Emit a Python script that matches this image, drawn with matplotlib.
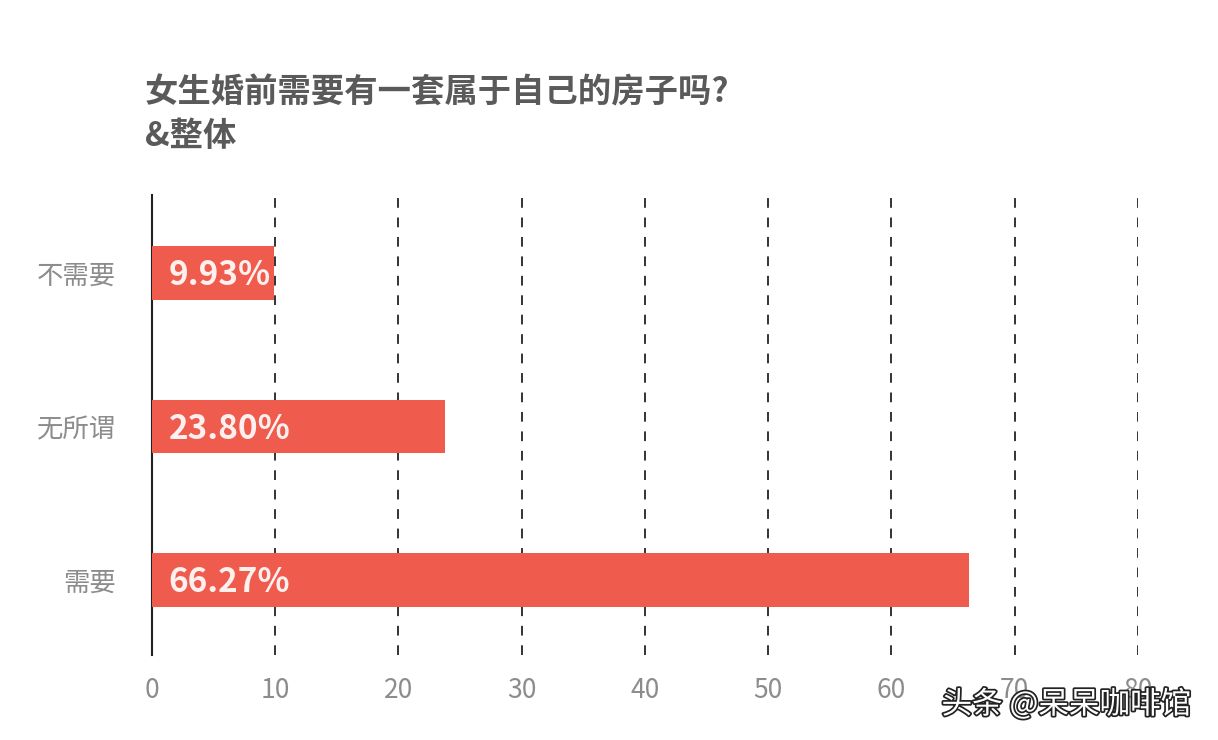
import matplotlib
matplotlib.use("Agg")
import matplotlib.pyplot as plt
from matplotlib import patheffects as pe

plt.rcParams['font.family'] = ['Noto Sans CJK SC', 'DejaVu Sans']

# data (bottom to top)
categories = ["需要", "无所谓", "不需要"]
values = [66.27, 23.80, 9.93]
labels = ["66.27%", "23.80%", "9.93%"]
xticks = [0, 10, 20, 30, 40, 50, 60, 70, 80]

BAR = "#ef5b4d"
GRAY = "#8c8c8c"

fig = plt.figure(figsize=(12.18, 7.40), dpi=100)
ax = fig.add_axes([0.1248, 0.1149, 0.8095, 0.6216])

y = range(len(categories))
ax.barh(y, values, height=0.35, color=BAR, zorder=3)
for yi, v, lab in zip(y, values, labels):
    ax.annotate(lab, (0, yi), xytext=(12, -2), textcoords="offset points",
                ha="left", va="center", fontsize=24, fontweight="bold",
                color="#fdf0ee", zorder=4)

ax.set_xlim(0, 80)
ax.set_ylim(-0.49, 2.51)
ax.set_xticks(xticks)
ax.set_xticklabels([str(t) for t in xticks])
ax.set_yticks(list(y))
ax.set_yticklabels(categories)
ax.tick_params(axis="x", length=0, pad=16, labelsize=19, labelcolor=GRAY)
ax.tick_params(axis="y", length=0, pad=26, labelsize=19, labelcolor=GRAY)

for t in xticks[1:]:
    ax.axvline(t, color="#333333", linestyle=(0, (5, 5)), linewidth=1.4,
               zorder=1)
for s in ("top", "right", "bottom"):
    ax.spines[s].set_visible(False)
ax.spines["left"].set_color("#222222")
ax.spines["left"].set_linewidth(1.5)

fig.text(0.119, 0.875, "女生婚前需要有一套属于自己的房子吗?", fontsize=24,
         fontweight="bold", color="#5a5a5a", ha="left", va="center")
fig.text(0.119, 0.815, "&整体", fontsize=24, fontweight="bold",
         color="#5a5a5a", ha="left", va="center")

# watermark sits over the 70/80 tick labels, as in the source image
fig.text(0.773, 0.048, "头条 @呆呆咖啡馆", fontsize=22, color="white",
         ha="left", va="center", zorder=10,
         path_effects=[pe.withStroke(linewidth=2.5, foreground="#222222")])

fig.savefig("out.png", dpi=100, facecolor="white")
